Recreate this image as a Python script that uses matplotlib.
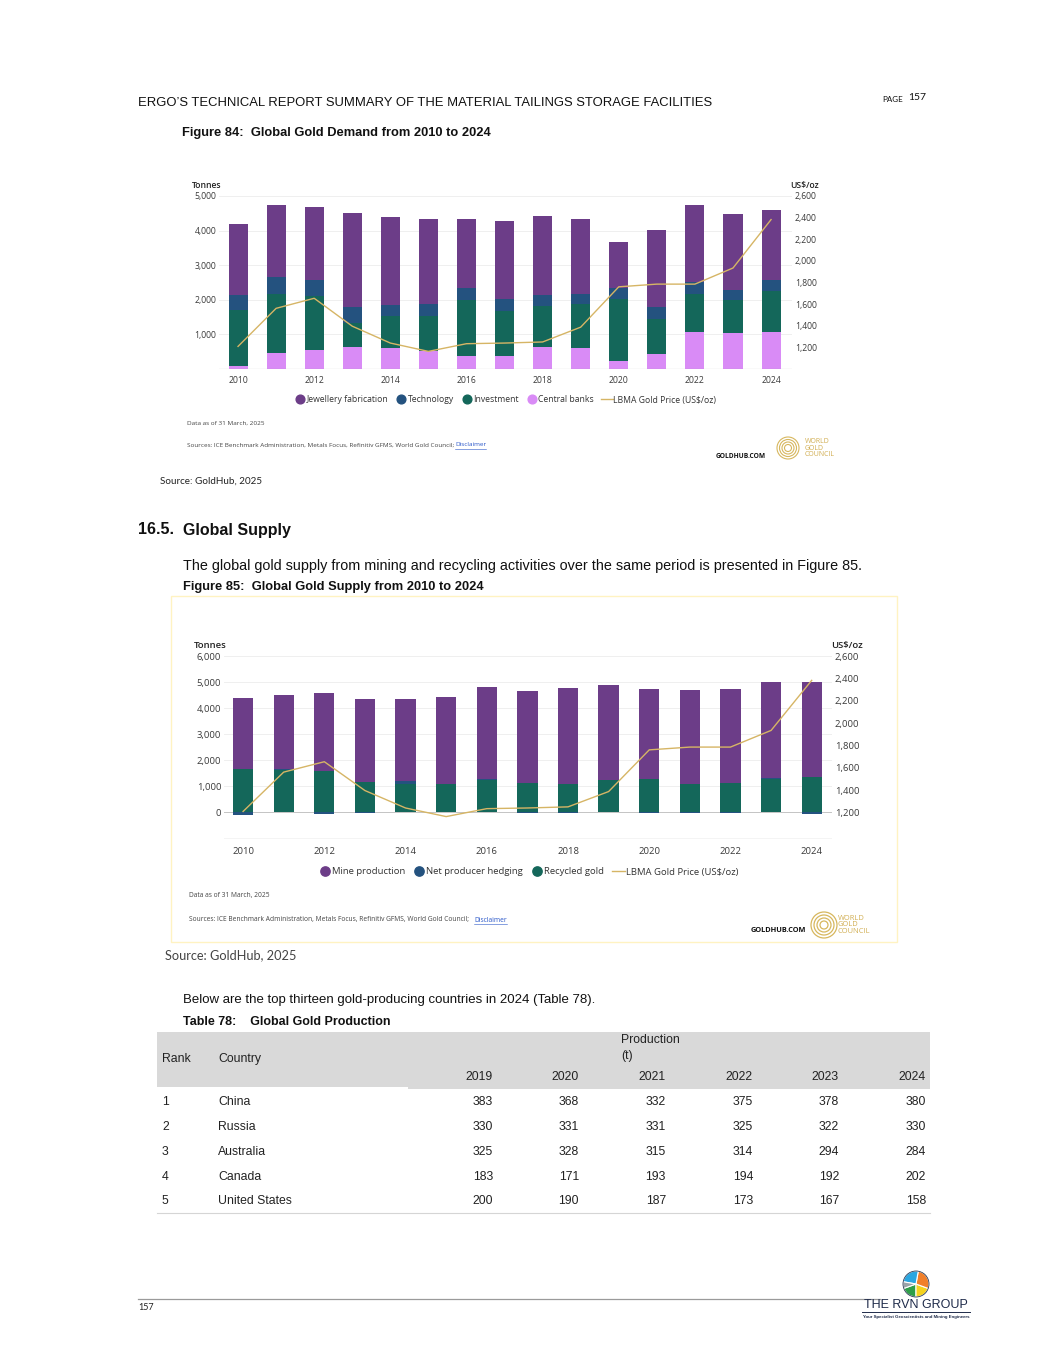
import numpy as np
import matplotlib.pyplot as plt
from matplotlib.lines import Line2D
from matplotlib.patches import Rectangle, Circle, Wedge

# ---- data ----
years = list(range(2010, 2025))

# Figure 84: demand (tonnes)
jewellery = [2043, 2079, 2128, 2717, 2534, 2466, 2002, 2244, 2283, 2166, 1330, 2224, 2224, 2214, 2002]
technology = [425, 474, 445, 455, 339, 358, 357, 338, 328, 290, 303, 339, 329, 290, 338]
investment = [1633, 1702, 1567, 696, 918, 996, 1596, 1306, 1161, 1286, 1790, 1006, 1112, 948, 1170]
central_banks = [79, 474, 551, 629, 600, 522, 387, 377, 648, 600, 245, 435, 1064, 1035, 1074]

# Figure 85: supply (tonnes)
mine = [2746, 2873, 3001, 3180, 3180, 3333, 3512, 3550, 3666, 3614, 3448, 3589, 3614, 3652, 3665]
hedging = [-110, 15, -45, -30, 100, 10, 30, -25, -15, 5, -40, -10, -15, 60, -60]
recycled = [1660, 1635, 1571, 1162, 1090, 1086, 1252, 1124, 1098, 1252, 1290, 1098, 1124, 1278, 1354]

# LBMA gold price (US$/oz)
price = [1209, 1561, 1654, 1396, 1240, 1163, 1234, 1240, 1250, 1387, 1760, 1785, 1785, 1934, 2382]

# Table 78
ranks = [1, 2, 3, 4, 5]
countries = ["China", "Russia", "Australia", "Canada", "United States"]
tab_years = ["2019", "2020", "2021", "2022", "2023", "2024"]
production = [[383, 368, 332, 375, 378, 380],
              [330, 331, 331, 325, 322, 330],
              [325, 328, 315, 314, 294, 284],
              [183, 171, 193, 194, 192, 202],
              [200, 190, 187, 173, 167, 158]]

c_jew = "#6c3d88"
c_tech = "#24527f"
c_inv = "#14675a"
c_cb = "#d98bf6"
c_gold = "#d6b565"
c_txt = "#3a3a3a"
cf = "Open Sans"
pf = "Liberation Sans"

W, H = 1055, 1365
fig = plt.figure(figsize=(W / 100, H / 100), dpi=100)
fig.patch.set_facecolor("white")

# page overlay in pixel coordinates
pg = fig.add_axes([0, 0, 1, 1])
pg.set_xlim(0, W)
pg.set_ylim(H, 0)
pg.axis("off")


def ax_rect(x0, x1, y0, y1):
    return [x0 / W, 1 - y1 / H, (x1 - x0) / W, (y1 - y0) / H]


def style(ax, ax2, lsize):
    for s in ax.spines.values():
        s.set_visible(False)
    for s in ax2.spines.values():
        s.set_visible(False)
    ax.tick_params(length=0, labelsize=lsize, labelcolor=c_txt, pad=2)
    ax2.tick_params(length=0, labelsize=lsize, labelcolor=c_txt, pad=2)
    for lab in ax.get_xticklabels() + ax.get_yticklabels() + ax2.get_yticklabels():
        lab.set_family(cf)
    ax.set_facecolor("none")
    ax.set_xticks([2010, 2012, 2014, 2016, 2018, 2020, 2022, 2024])


x = np.array(years)
bw = 0.5

# ---------------- Figure 84 ----------------
ax = fig.add_axes(ax_rect(219, 792, 196, 369))
ax.set_xlim(2009.5, 2024.55)
ax.set_ylim(0, 5000)
ax.set_axisbelow(True)
ax.yaxis.grid(True, color="#ececec", lw=0.6)
b = np.zeros(len(years))
for vals, col in [(central_banks, c_cb), (investment, c_inv), (technology, c_tech), (jewellery, c_jew)]:
    ax.bar(x, vals, bw, bottom=b, color=col, zorder=2)
    b = b + np.array(vals)
ax.axhline(0, color="#9a9a9a", lw=0.8, zorder=3)
ax.set_yticks([1000, 2000, 3000, 4000, 5000])
ax.set_yticklabels(["1,000", "2,000", "3,000", "4,000", "5,000"])
ax2 = ax.twinx()
ax2.set_ylim(1000, 2600)
ax2.plot(x, price, color=c_gold, lw=1.0)
ax2.set_yticks([1200, 1400, 1600, 1800, 2000, 2200, 2400, 2600])
ax2.set_yticklabels(["1,200", "1,400", "1,600", "1,800", "2,000", "2,200", "2,400", "2,600"])
style(ax, ax2, 6.2)
ax.tick_params(axis="x", pad=5)

pg.text(192, 186, "Tonnes", fontsize=6.2, family=cf, weight="semibold", color="#222", va="center")
pg.text(790, 186, "US$/oz", fontsize=6.2, family=cf, weight="semibold", color="#222", va="center")

h1 = [Line2D([], [], marker="o", ls="", color=c, markersize=6.3) for c in [c_jew, c_tech, c_inv, c_cb]]
h1.append(Line2D([], [], color=c_gold, lw=1))
fig.legend(h1, ["Jewellery fabrication", "Technology", "Investment", "Central banks", "LBMA Gold Price (US$/oz)"],
           loc="center", bbox_to_anchor=(505, 400), bbox_transform=pg.transData, ncol=5, frameon=False,
           prop={"family": cf, "size": 6.2}, handletextpad=0.05, columnspacing=0.8, handlelength=1.4,
           labelcolor="#333")

pg.text(187, 423, "Data as of 31 March, 2025", fontsize=4.6, family=cf, color="#444", va="center")
pg.text(187, 445, "Sources: ICE Benchmark Administration, Metals Focus, Refinitiv GFMS, World Gold Council;",
        fontsize=4.6, family=cf, color="#444", va="center")
pg.text(455, 445, "Disclaimer", fontsize=4.6, family=cf, color="#2a57c9", va="center")
pg.plot([455, 486], [448.5, 448.5], color="#2a57c9", lw=0.4)
pg.text(716, 456, "GOLDHUB.COM", fontsize=4.8, family=cf, weight="bold", color="#111", va="center")
for r in [11, 8.5, 6, 3.5]:
    pg.add_patch(Circle((788, 448), r, fill=False, ec="#d7b75e", lw=0.8))
pg.text(805, 448, "WORLD\nGOLD\nCOUNCIL", fontsize=5.0, family=cf, color="#d1ae52", va="center", linespacing=0.9)

# ---------------- Figure 85 ----------------
bx = fig.add_axes(ax_rect(224, 832, 656, 839))
bx.set_xlim(2009.53, 2024.5)
bx.set_ylim(-1018, 6000)
bx.set_axisbelow(True)
bx.set_yticks([0, 1000, 2000, 3000, 4000, 5000, 6000])
bx.set_yticklabels(["0", "1,000", "2,000", "3,000", "4,000", "5,000", "6,000"])
bx.yaxis.grid(True, color="#ececec", lw=0.6)
hed = np.array(hedging)
rec = np.array(recycled)
bx.bar(x, rec, bw, color=c_inv, zorder=2)
pos = np.clip(hed, 0, None)
neg = np.clip(hed, None, 0)
bx.bar(x, pos, bw, bottom=rec, color=c_tech, zorder=2)
bx.bar(x, neg, bw, color=c_tech, zorder=2)
bx.bar(x, mine, bw, bottom=rec + pos, color=c_jew, zorder=2)
bx.axhline(0, color="#c4c4c4", lw=0.7, zorder=1)
bx.axhline(-1018, color="#c8c8c8", lw=1.0)
bx2 = bx.twinx()
bx2.set_ylim(1200 - 1018 * 1400 / 6000, 2600)
bx2.plot(x, price, color=c_gold, lw=1.0)
bx2.set_yticks([1200, 1400, 1600, 1800, 2000, 2200, 2400, 2600])
bx2.set_yticklabels(["1,200", "1,400", "1,600", "1,800", "2,000", "2,200", "2,400", "2,600"])
style(bx, bx2, 6.8)
bx.tick_params(axis="x", pad=6)

pg.text(194, 645, "Tonnes", fontsize=6.8, family=cf, weight="semibold", color="#222", va="center")
pg.text(831, 645, "US$/oz", fontsize=6.8, family=cf, weight="semibold", color="#222", va="center")

h2 = [Line2D([], [], marker="o", ls="", color=c, markersize=6.7) for c in [c_jew, c_tech, c_inv]]
h2.append(Line2D([], [], color=c_gold, lw=1))
fig.legend(h2, ["Mine production", "Net producer hedging", "Recycled gold", "LBMA Gold Price (US$/oz)"],
           loc="center", bbox_to_anchor=(528, 872), bbox_transform=pg.transData, ncol=4, frameon=False,
           prop={"family": cf, "size": 6.8}, handletextpad=0.05, columnspacing=0.8, handlelength=1.4,
           labelcolor="#333")

pg.text(189, 896, "Data as of 31 March, 2025", fontsize=4.8, family=cf, color="#444", va="center")
pg.text(189, 920, "Sources: ICE Benchmark Administration, Metals Focus, Refinitiv GFMS, World Gold Council;",
        fontsize=4.8, family=cf, color="#444", va="center")
pg.text(474, 920, "Disclaimer", fontsize=4.8, family=cf, color="#2a57c9", va="center")
pg.plot([474, 507], [923.5, 923.5], color="#2a57c9", lw=0.4)
pg.text(751, 931, "GOLDHUB.COM", fontsize=5.3, family=cf, weight="bold", color="#111", va="center")
for r in [13, 10, 7, 4]:
    pg.add_patch(Circle((824, 925), r, fill=False, ec="#d7b75e", lw=0.9))
pg.text(838, 925, "WORLD\nGOLD\nCOUNCIL", fontsize=5.4, family=cf, color="#d1ae52", va="center", linespacing=0.9)

pg.add_patch(Rectangle((171, 596), 726, 346, fill=False, ec="#fff3c2", lw=1.0))

# ---------------- page text ----------------
pg.text(138, 103, "ERGO\u2019S TECHNICAL REPORT SUMMARY OF THE MATERIAL TAILINGS STORAGE FACILITIES",
        fontsize=9.4, family=pf, color="#111", va="center")
pg.text(882, 99, "PAGE", fontsize=5.8, family="Lato", color="#111", va="center")
pg.text(908, 98, "157", fontsize=7.5, family="Lato", color="#111", va="center")
pg.text(182, 133, "Figure 84:  Global Gold Demand from 2010 to 2024", fontsize=9.3,
        family=pf, weight="bold", color="#111", va="center")
pg.text(160, 481, "Source: GoldHub, 2025", fontsize=7.1, family="Lato", color="#222", va="center")
pg.text(138, 530, "16.5.", fontsize=11.5, family=pf, weight="bold", color="#111", va="center")
pg.text(183, 530, "Global Supply", fontsize=11.5, family=pf, weight="bold", color="#111", va="center")
pg.text(183, 566, "The global gold supply from mining and recycling activities over the same period is presented in Figure 85.",
        fontsize=10.4, family=pf, color="#111", va="center")
pg.text(183, 587, "Figure 85:  Global Gold Supply from 2010 to 2024", fontsize=9.3,
        family=pf, weight="bold", color="#111", va="center")
pg.text(165, 955, "Source: GoldHub, 2025", fontsize=9.2, family="Lato", color="#444", va="center")
pg.text(183, 1000, "Below are the top thirteen gold-producing countries in 2024 (Table 78).",
        fontsize=9.5, family=pf, color="#111", va="center")
pg.text(183, 1022, "Table 78:    Global Gold Production", fontsize=9.0, family=pf, weight="bold",
        color="#111", va="center")

# ---------------- table ----------------
pg.add_patch(Rectangle((157, 1032), 251, 55, color="#d9d9d9", lw=0))
pg.add_patch(Rectangle((408, 1032), 522, 57, color="#d9d9d9", lw=0))
pg.text(621, 1040, "Production", fontsize=8.8, family=pf, color="#222", va="center")
pg.text(621, 1056, "(t)", fontsize=8.8, family=pf, color="#222", va="center")
pg.text(162, 1059, "Rank", fontsize=8.8, family=pf, color="#222", va="center")
pg.text(218, 1059, "Country", fontsize=8.8, family=pf, color="#222", va="center")
col_x = [493, 579, 666, 753, 839, 926]
for cx, yr in zip(col_x, tab_years):
    pg.text(cx, 1077, yr, fontsize=8.8, family=pf, color="#222", va="center", ha="right")
row_y = [1102, 1127, 1152, 1177, 1201]
for ry, rk, cn, vals in zip(row_y, ranks, countries, production):
    pg.text(162, ry, str(rk), fontsize=8.8, family=pf, color="#222", va="center")
    pg.text(218, ry, cn, fontsize=8.8, family=pf, color="#222", va="center")
    for cx, v in zip(col_x, vals):
        pg.text(cx, ry, str(v), fontsize=8.8, family=pf, color="#222", va="center", ha="right")
pg.plot([157, 930], [1213, 1213], color="#d5d5d5", lw=0.8)

# ---------------- footer ----------------
pg.plot([138, 880], [1299, 1299], color="#9a9a9a", lw=0.9)
pg.text(138, 1308, "157", fontsize=6.5, family="Lato", color="#222", va="center")
for a0, a1, col in [(90, 160, "#2e9e48"), (20, 90, "#f4d21f"), (-80, 20, "#f07f2a"),
                    (-170, -80, "#2aa6e0"), (160, 190, "#9aa3a8")]:
    pg.add_patch(Wedge((916, 1284), 13, a0, a1, fc=col, ec="white", lw=0.8))
pg.add_patch(Circle((916, 1284), 13, fill=False, ec="#2b3a55", lw=0.6))
pg.text(916, 1305, "THE RVN GROUP", fontsize=9, family=pf, color="#1f2b4a", va="center", ha="center")
pg.plot([862, 970], [1312, 1312], color="#1f2b4a", lw=0.7)
pg.text(916, 1317, "Your Specialist Geoscientists and Mining Engineers", fontsize=3.2, family=pf,
        weight="bold", color="#1f2b4a", va="center", ha="center")

fig.savefig("out.png", dpi=100)
